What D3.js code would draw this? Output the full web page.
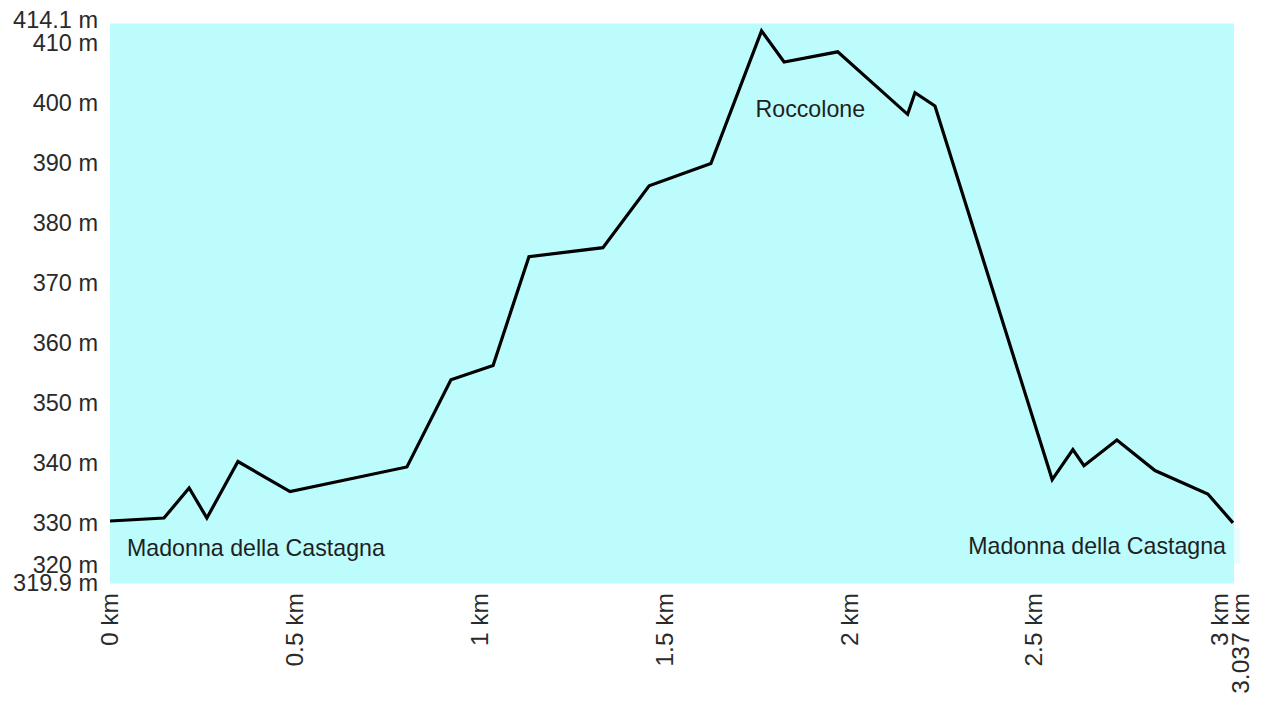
<!DOCTYPE html>
<html>
<head>
<meta charset="utf-8">
<script src="https://cdn.jsdelivr.net/npm/d3@7"></script>
<style>
  html, body { margin: 0; padding: 0; background: #fff; }
  svg { display: block; }
  text { font-family: "Liberation Sans", Arial, sans-serif; }
</style>
</head>
<body>
<svg id="chart" width="1266" height="701"></svg>
<script>
// ---- data ----
const distKm = [0, 0.146, 0.214, 0.262, 0.346, 0.487, 0.803, 0.922, 1.036, 1.133, 1.333, 1.458, 1.625,
  1.762, 1.823, 1.968, 2.157, 2.177, 2.231, 2.548, 2.604, 2.634, 2.723, 2.826, 2.969, 3.037];
const elevM = [330.3, 330.8, 335.8, 330.8, 340.2, 335.2, 339.3, 353.8, 356.2, 374.3, 375.8, 386.1, 389.8,
  411.9, 406.7, 408.4, 398.0, 401.6, 399.4, 337.2, 342.2, 339.5, 343.8, 338.7, 334.8, 330.0];
const yTicks = [319.9, 320, 330, 340, 350, 360, 370, 380, 390, 400, 410, 414.1];
const xTicks = [0, 0.5, 1, 1.5, 2, 2.5, 3, 3.037];
const placeNames = ["Madonna della Castagna", "Roccolone", "Madonna della Castagna"];
const placeKm = [0, 1.762, 3.037];

// ---- layout ----
const svg = d3.select("#chart");
const plot = { left: 110, right: 1234, top: 23.5, bottom: 583.5 };
const x = d3.scaleLinear().domain([0, 3.037]).range([110, 1233]);
const y = d3.scaleLinear().domain([319.9, 414.1]).range([583.5, 17.6]);

svg.append("rect")
  .attr("x", plot.left).attr("y", plot.top)
  .attr("width", plot.right - plot.left).attr("height", plot.bottom - plot.top)
  .attr("fill", "#bcfcfd");

// y axis labels
const yNudge = v => v === 414.1 ? 1.6 : v === 319.9 ? -1.5 : v === 320 ? -18.2 : 0;
const yAxis = d3.axisLeft(y).tickValues(yTicks).tickSize(0).tickPadding(0)
  .tickFormat(d => d + " m");
const gy = svg.append("g").attr("transform", "translate(98,0)").call(yAxis);
gy.select(".domain").remove();
gy.selectAll(".tick text")
  .attr("font-size", 23.5).attr("fill", "#2a2a2a")
  .attr("font-family", "Liberation Sans, Arial, sans-serif")
  .attr("x", 0).attr("dy", null)
  .attr("dominant-baseline", "central")
  .attr("y", d => yNudge(d));

// x axis labels
const xNudge = v => v === 3.037 ? 7 : v === 3 ? 0 : -1;
const xAxis = d3.axisBottom(x).tickValues(xTicks).tickSize(0).tickPadding(0)
  .tickFormat(d => d + " km");
const gx = svg.append("g").attr("transform", "translate(0,593)").call(xAxis);
gx.select(".domain").remove();
gx.selectAll(".tick text")
  .attr("font-size", 24.5).attr("fill", "#2a2a2a")
  .attr("font-family", "Liberation Sans, Arial, sans-serif")
  .attr("text-anchor", "end")
  .attr("dominant-baseline", "central")
  .attr("dy", null).attr("y", 0).attr("x", 0)
  .attr("transform", d => `translate(${xNudge(d)},0) rotate(-90)`);

// profile line
const line = d3.line().x((d, i) => x(distKm[i])).y(d => y(d));
svg.append("path")
  .datum(elevM)
  .attr("d", line)
  .attr("fill", "none")
  .attr("stroke", "#000")
  .attr("stroke-width", 3.2)
  .attr("stroke-linejoin", "miter");

// place labels
const labelAnchor = ["start", "start", "end"];
const labelDx = [17, -6, -7];
const labelY = [555.5, 116.5, 554];
placeNames.forEach((name, i) => {
  const g = svg.append("g");
  const t = g.append("text")
    .attr("x", x(placeKm[i]) + labelDx[i])
    .attr("y", labelY[i])
    .attr("text-anchor", labelAnchor[i])
    .attr("font-size", 23.2)
    .attr("fill", "#1f1f1f")
    .text(name);
  if (i === 2) {
    const b = t.node().getBBox();
    g.insert("rect", "text")
      .attr("x", b.x - 6).attr("y", b.y - 5)
      .attr("width", b.width + 20).attr("height", b.height + 10)
      .attr("fill", "#bcfcfd").attr("opacity", 0.35);
  }
});
</script>
</body>
</html>
